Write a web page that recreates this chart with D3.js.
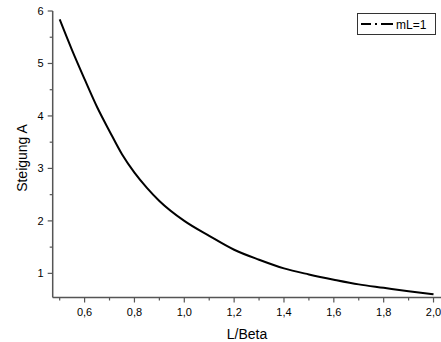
<!DOCTYPE html>
<html>
<head>
<meta charset="utf-8">
<script src="https://cdn.jsdelivr.net/npm/d3@7"></script>
<style>
body { margin: 0; background: #fff; }
text { font-family: "Liberation Sans", Arial, sans-serif; fill: #000; }
</style>
</head>
<body>
<svg id="chart"></svg>
<script>
var width = 441;
var height = 342;

// L/Beta values and slope A
var xValues = [0.5, 0.55, 0.6, 0.65, 0.7, 0.75, 0.8, 0.85, 0.9, 1.0, 1.1, 1.2, 1.3, 1.4, 1.5, 1.6, 1.7, 1.8, 1.9, 2.0];
var aValues = [5.84, 5.25, 4.70, 4.17, 3.71, 3.27, 2.92, 2.63, 2.38, 2.0, 1.715, 1.45, 1.26, 1.095, 0.98, 0.88, 0.79, 0.725, 0.66, 0.6];
var seriesName = "mL=1";
var xTicks = [0.6, 0.8, 1.0, 1.2, 1.4, 1.6, 1.8, 2.0];
var xMinor = [0.5, 0.7, 0.9, 1.1, 1.3, 1.5, 1.7, 1.9];
var yTicks = [1, 2, 3, 4, 5, 6];
var yMinor = [1.5, 2.5, 3.5, 4.5, 5.5];

var axisColor = "#555555";

var x = d3.scaleLinear()
.domain([0.472, 2.03])
.range([52.7, 441]);

var y = d3.scaleLinear()
.domain([0.54, 6])
.range([297.5, 11]);

var svg = d3.select("#chart")
.attr("width", width)
.attr("height", height);

var fmt = function (d) { return d3.format(".1f")(d).replace(".", ","); };

// x axis
var xAxis = svg.append("g")
.attr("transform", "translate(0," + y.range()[0] + ")");

xAxis.append("line")
.attr("x1", x.range()[0])
.attr("x2", x.range()[1])
.attr("stroke", axisColor)
.attr("stroke-width", 1.5);

xAxis.selectAll(".major")
.data(xTicks)
.enter()
.append("line")
.attr("x1", function (d) { return x(d); })
.attr("x2", function (d) { return x(d); })
.attr("y1", 0)
.attr("y2", 5)
.attr("stroke", axisColor)
.attr("stroke-width", 1.2);

xAxis.selectAll(".minor")
.data(xMinor)
.enter()
.append("line")
.attr("x1", function (d) { return x(d); })
.attr("x2", function (d) { return x(d); })
.attr("y1", 0)
.attr("y2", 3)
.attr("stroke", axisColor)
.attr("stroke-width", 1.2);

xAxis.selectAll("text")
.data(xTicks)
.enter()
.append("text")
.attr("x", function (d) { return x(d); })
.attr("y", 18)
.style("text-anchor", "middle")
.style("font-size", "11px")
.text(fmt);

// y axis
var yAxis = svg.append("g")
.attr("transform", "translate(" + x.range()[0] + ",0)");

yAxis.append("line")
.attr("y1", y.range()[0])
.attr("y2", y.range()[1])
.attr("stroke", axisColor)
.attr("stroke-width", 1.5);

yAxis.selectAll(".major")
.data(yTicks)
.enter()
.append("line")
.attr("x1", 0)
.attr("x2", -5)
.attr("y1", function (d) { return y(d); })
.attr("y2", function (d) { return y(d); })
.attr("stroke", axisColor)
.attr("stroke-width", 1.2);

yAxis.selectAll(".minor")
.data(yMinor)
.enter()
.append("line")
.attr("x1", 0)
.attr("x2", -3)
.attr("y1", function (d) { return y(d); })
.attr("y2", function (d) { return y(d); })
.attr("stroke", axisColor)
.attr("stroke-width", 1.2);

yAxis.selectAll("text")
.data(yTicks)
.enter()
.append("text")
.attr("x", -9)
.attr("y", function (d) { return y(d); })
.attr("dy", "0.36em")
.style("text-anchor", "end")
.style("font-size", "11px")
.text(function (d) { return d; });

// axis titles
svg.append("text")
.attr("x", 247)
.attr("y", 339)
.style("text-anchor", "middle")
.style("font-size", "14px")
.text("L/Beta");

svg.append("text")
.attr("transform", "translate(27,158) rotate(-90)")
.style("text-anchor", "middle")
.style("font-size", "14px")
.text("Steigung A");

// curve
var points = xValues.map(function (d, i) { return [d, aValues[i]]; });

var line = d3.line()
.x(function (d) { return x(d[0]); })
.y(function (d) { return y(d[1]); })
.curve(d3.curveMonotoneX);

svg.append("path")
.datum(points)
.attr("d", line)
.attr("fill", "none")
.attr("stroke", "#000")
.attr("stroke-width", 2);

// legend
var legend = svg.append("g");

legend.append("rect")
.attr("x", 357.5)
.attr("y", 13.5)
.attr("width", 78)
.attr("height", 21)
.attr("fill", "#fff")
.attr("stroke", "#333")
.attr("stroke-width", 1);

legend.append("line")
.attr("x1", 361)
.attr("x2", 393)
.attr("y1", 24)
.attr("y2", 24)
.attr("stroke", "#000")
.attr("stroke-width", 2)
.attr("stroke-dasharray", "10,4,2,4,12");

legend.append("text")
.attr("x", 396)
.attr("y", 28.5)
.style("font-size", "12px")
.text(seriesName);
</script>
</body>
</html>
